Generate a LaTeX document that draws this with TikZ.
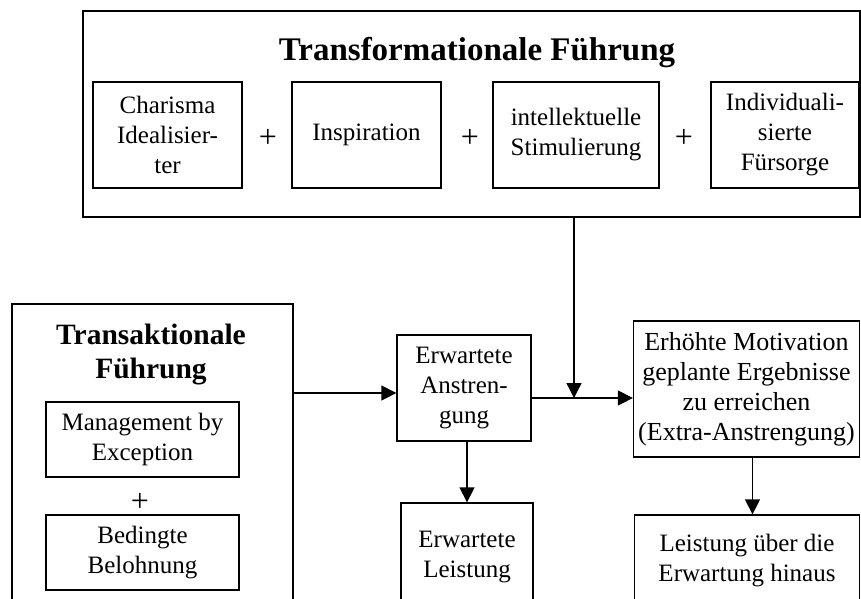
\documentclass[tikz,border=0pt]{standalone}
\usepackage{fontspec}
\setmainfont{Liberation Serif}
\usetikzlibrary{arrows.meta}
\begin{document}
\begin{tikzpicture}[x=1pt,y=-1pt,
  box/.style={draw, line width=1.3pt, align=center, inner sep=0pt, font=\fontsize{25}{30}\selectfont},
  frame/.style={draw, line width=1.3pt, inner sep=0pt},
  plussign/.style={font=\fontsize{32}{32}\selectfont, inner sep=0pt},
  bigtitle/.style={font=\fontsize{33}{36}\selectfont\bfseries, align=center, inner sep=0pt},
  midtitle/.style={font=\fontsize{29.5}{34}\selectfont\bfseries, align=center, inner sep=0pt},
  arr/.style={line width=1.3pt, -{Triangle[length=15pt,width=15pt]}},
]
\useasboundingbox (0,0) rectangle (861,598);
\clip (0,0) rectangle (861,598);

% top frame
\node[frame, minimum width=777pt, minimum height=206pt] (top) at (471.5,114) {};
\node[bigtitle, anchor=base] (ttitle) at (477,60) {Transformationale Führung};
\node[box, minimum width=149pt, minimum height=106pt] (cha) at (167.5,135) {Charisma\\Idealisier-\\ter};
\node[plussign] (p1) at (268,138) {+};
\node[box, minimum width=149pt, minimum height=106pt] (insp) at (366.5,135) {Inspiration};
\node[plussign] (p2) at (470,138) {+};
\node[box, minimum width=166pt, minimum height=106pt] (intel) at (576,135) {intellektuelle\\Stimulierung};
\node[plussign] (p3) at (684,138) {+};
\node[box, minimum width=148pt, minimum height=106pt] (indiv) at (785,135) {Individuali-\\sierte\\Fürsorge};

% transactional frame
\node[frame, minimum width=281pt, minimum height=316pt] (trans) at (152.5,462) {};
\node[midtitle] (trtitle) at (151,355) {Transaktionale\\Führung};
\node[box, minimum width=193pt, minimum height=75pt] (mbe) at (142.5,439.5) {Management by\\Exception};
\node[plussign] (p4) at (140,502) {+};
\node[box, minimum width=193pt, minimum height=75pt] (bel) at (142.5,552.5) {Bedingte\\Belohnung};

% middle column
\node[box, minimum width=134pt, minimum height=106pt] (ea) at (464,388) {Erwartete\\Anstren-\\gung};
\node[box, minimum width=132pt, minimum height=108pt] (el) at (467,557) {Erwartete\\Leistung};

% right column
\node[box, font=\fontsize{26}{30}\selectfont, minimum width=226pt, minimum height=136pt] (erh) at (746.5,389) {Erhöhte Motivation\\geplante Ergebnisse\\zu erreichen\\(Extra-Anstrengung)};
\node[box, minimum width=225pt, minimum height=92pt] (leist) at (747,561) {Leistung über die\\Erwartung hinaus};

% connectors
\coordinate (j) at (574,398);
\draw[arr] (trans.east |- 0,393) -- (ea.west |- 0,393);
\draw[arr] (ea.east |- j) -- (erh.west |- j);
\draw[arr] (j |- top.south) -- (j);
\draw[arr] (el.north |- ea.south) -- (el.north);
\draw[arr] ([xshift=6pt]erh.south) -- ([xshift=6pt]erh.south |- leist.north);
\end{tikzpicture}
\end{document}
